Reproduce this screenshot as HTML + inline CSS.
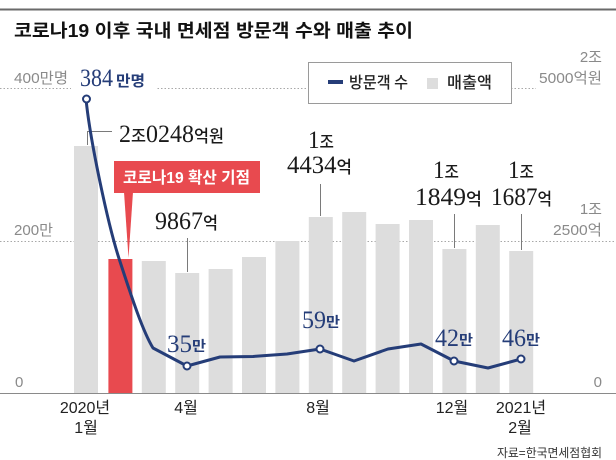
<!DOCTYPE html>
<html><head><meta charset="utf-8"><style>
html,body{margin:0;padding:0;background:#fff;}
svg{display:block;}
.sans{font-family:"Liberation Sans","Noto Sans CJK KR",sans-serif;}
.serif{font-family:"Liberation Serif","Noto Serif CJK SC",serif;}
.kr{font-family:"Noto Sans CJK KR","Liberation Sans",sans-serif;}
</style></head><body>
<svg width="616" height="460" viewBox="0 0 616 460" xmlns="http://www.w3.org/2000/svg">
<rect x="0" y="0" width="616" height="460" fill="#fff"/>
<rect x="0" y="8.5" width="616" height="2" fill="#6a6a6a"/>
<text class="sans" x="14" y="37" font-size="18" font-weight="bold" fill="#111" textLength="399" lengthAdjust="spacingAndGlyphs">코로나19 이후 국내 면세점 방문객 수와 매출 추이</text>

<!-- gridlines -->
<line x1="0" y1="88.5" x2="536" y2="88.5" stroke="#a8a8a8" stroke-width="1" stroke-dasharray="1.5,2"/>
<rect x="71" y="84" width="85" height="8" fill="#fff"/>
<line x1="0" y1="241.5" x2="616" y2="241.5" stroke="#a8a8a8" stroke-width="1" stroke-dasharray="1.5,2"/>

<!-- bars -->
<g fill="#dddddd">
<rect x="74" y="146" width="24" height="247"/>
<rect x="141.8" y="261" width="24" height="132"/>
<rect x="175.2" y="273" width="24" height="120"/>
<rect x="208.6" y="269" width="24" height="124"/>
<rect x="242" y="257" width="24" height="136"/>
<rect x="275.4" y="241" width="24" height="152"/>
<rect x="308.8" y="217" width="24" height="176"/>
<rect x="342.2" y="212" width="24" height="181"/>
<rect x="375.6" y="224" width="24" height="169"/>
<rect x="409" y="220" width="24" height="173"/>
<rect x="442.4" y="249" width="24" height="144"/>
<rect x="475.8" y="225" width="24" height="168"/>
<rect x="509.2" y="251" width="24" height="142"/>
</g>
<rect x="108.4" y="259" width="24" height="134" fill="#e84a4f"/>

<!-- axis -->
<line x1="0" y1="393.5" x2="616" y2="393.5" stroke="#8a8a8a" stroke-width="1"/>

<!-- leader lines -->
<g stroke="#7a7a7a" stroke-width="1" fill="none">
<polyline points="87.5,145 87.5,131.5 112,131.5"/>
<line x1="187.5" y1="238" x2="187.5" y2="272"/>
<line x1="320.5" y1="184" x2="320.5" y2="216"/>
<line x1="454.5" y1="214" x2="454.5" y2="248"/>
<line x1="521.5" y1="214" x2="521.5" y2="250"/>
</g>

<!-- callout -->
<rect x="114" y="161" width="146" height="32" fill="#e84a4f"/>
<polygon points="124,192 133,192 128.5,258" fill="#e84a4f"/>
<text class="sans" x="123" y="183" font-size="16" font-weight="bold" fill="#fff" textLength="127" lengthAdjust="spacingAndGlyphs">코로나19 확산 기점</text>

<!-- visitor line -->
<path d="M86,99 C90,140 108,225 119.5,260 C130,292 142,330 153,348 L187,366 L220,357 L253,356.5 L287,354 L320,349 L354,361 L388,349 L421,344 L454,361 L488,368 L521,359" fill="none" stroke="#253d78" stroke-width="3" stroke-linejoin="round"/>
<g fill="#fff" stroke="#253d78" stroke-width="2">
<circle cx="86.5" cy="99" r="3.5"/>
<circle cx="187" cy="366" r="3.5"/>
<circle cx="320" cy="349" r="3.5"/>
<circle cx="454" cy="361" r="3.5"/>
<circle cx="521" cy="359" r="3.5"/>
</g>

<!-- legend -->
<rect x="308.5" y="62.5" width="203" height="41" fill="#fff" stroke="#9a9a9a" stroke-width="1"/>
<line x1="328" y1="82" x2="343" y2="82" stroke="#253d78" stroke-width="4"/>
<text class="kr" x="349" y="88" font-size="16" font-weight="500" fill="#222" textLength="59" lengthAdjust="spacingAndGlyphs">방문객 수</text>
<rect x="427" y="78" width="11" height="11" fill="#dddddd"/>
<text class="kr" x="447" y="88" font-size="16" font-weight="500" fill="#222" textLength="45" lengthAdjust="spacingAndGlyphs">매출액</text>

<!-- axis labels -->
<g class="sans" font-size="15" fill="#8a8a8a">
<text x="14" y="83" textLength="54" lengthAdjust="spacingAndGlyphs">400만명</text>
<text x="14" y="235" textLength="39" lengthAdjust="spacingAndGlyphs">200만</text>
<text x="15" y="387">0</text>
<text x="602" y="62" text-anchor="end">2조</text>
<text x="539" y="83" textLength="63" lengthAdjust="spacingAndGlyphs">5000억원</text>
<text x="602" y="214" text-anchor="end">1조</text>
<text x="553" y="235" textLength="49" lengthAdjust="spacingAndGlyphs">2500억</text>
<text x="602" y="387" text-anchor="end">0</text>
</g>

<!-- x labels -->
<g class="sans" font-size="16" fill="#222" text-anchor="middle">
<text x="85" y="413">2020년</text>
<text x="86" y="433">1월</text>
<text x="186" y="413">4월</text>
<text x="318" y="413">8월</text>
<text x="452" y="413">12월</text>
<text x="521" y="413">2021년</text>
<text x="520" y="433">2월</text>
</g>
<text class="sans" x="497" y="457" font-size="12" fill="#333" textLength="105" lengthAdjust="spacingAndGlyphs">자료=한국면세점협회</text>

<!-- peak label -->
<text class="serif" x="80" y="86" font-size="25" fill="#253d78" textLength="33" lengthAdjust="spacingAndGlyphs">384</text>
<text class="kr" x="116" y="86" font-size="15" font-weight="bold" fill="#253d78" textLength="29" lengthAdjust="spacingAndGlyphs">만명</text>

<!-- revenue labels -->
<g class="serif" fill="#1a1a1a">
<text x="119" y="142" font-size="25" textLength="105" lengthAdjust="spacingAndGlyphs">2<tspan class="kr" font-size="17" font-weight="500">조</tspan>0248<tspan class="kr" font-size="17" font-weight="500">억원</tspan></text>
<text x="155" y="229" font-size="25" textLength="63" lengthAdjust="spacingAndGlyphs">9867<tspan class="kr" font-size="17" font-weight="500">억</tspan></text>
<text x="308" y="148" font-size="25" textLength="26" lengthAdjust="spacingAndGlyphs">1<tspan class="kr" font-size="17" font-weight="500">조</tspan></text>
<text x="287" y="173" font-size="25" textLength="65" lengthAdjust="spacingAndGlyphs">4434<tspan class="kr" font-size="17" font-weight="500">억</tspan></text>
<text x="433" y="178" font-size="25" textLength="26" lengthAdjust="spacingAndGlyphs">1<tspan class="kr" font-size="17" font-weight="500">조</tspan></text>
<text x="415" y="205" font-size="25" textLength="67" lengthAdjust="spacingAndGlyphs">1849<tspan class="kr" font-size="17" font-weight="500">억</tspan></text>
<text x="508" y="178" font-size="25" textLength="26" lengthAdjust="spacingAndGlyphs">1<tspan class="kr" font-size="17" font-weight="500">조</tspan></text>
<text x="491" y="205" font-size="25" textLength="61" lengthAdjust="spacingAndGlyphs">1687<tspan class="kr" font-size="17" font-weight="500">억</tspan></text>
</g>

<!-- visitor labels -->
<g fill="#253d78">
<text class="serif" x="167" y="352" font-size="25" textLength="25" lengthAdjust="spacingAndGlyphs">35</text>
<text class="kr" x="192" y="351" font-size="14" font-weight="bold" textLength="14" lengthAdjust="spacingAndGlyphs">만</text>
<text class="serif" x="302" y="328" font-size="25" textLength="24" lengthAdjust="spacingAndGlyphs">59</text>
<text class="kr" x="326" y="327" font-size="14" font-weight="bold" textLength="14" lengthAdjust="spacingAndGlyphs">만</text>
<text class="serif" x="435" y="346" font-size="25" textLength="24" lengthAdjust="spacingAndGlyphs">42</text>
<text class="kr" x="459" y="345" font-size="14" font-weight="bold" textLength="14" lengthAdjust="spacingAndGlyphs">만</text>
<text class="serif" x="502" y="346" font-size="25" textLength="24" lengthAdjust="spacingAndGlyphs">46</text>
<text class="kr" x="526" y="345" font-size="14" font-weight="bold" textLength="14" lengthAdjust="spacingAndGlyphs">만</text>
</g>
</svg>
</body></html>
